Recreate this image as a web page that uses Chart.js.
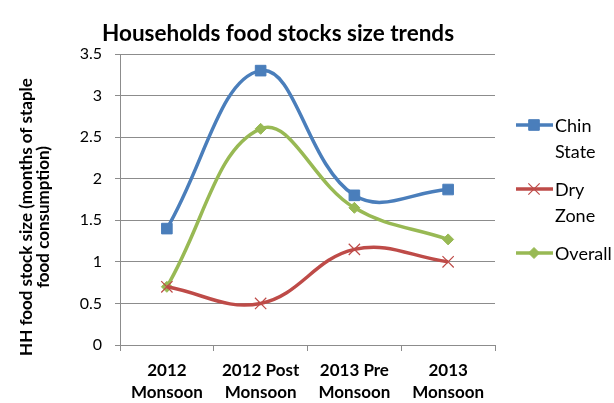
<!DOCTYPE html>
<html>
<head>
<meta charset="utf-8">
<script src="https://cdn.jsdelivr.net/npm/chart.js@4/dist/chart.umd.min.js"></script>
<style>
  html, body { margin: 0; padding: 0; background: #fff; }
  #wrap { width: 614px; height: 403px; }
</style>
</head>
<body>
<div id="wrap"><canvas id="grafico"></canvas></div>
<script>
const periodos = [['2012', 'Monsoon'], ['2012 Post', 'Monsoon'], ['2013 Pre', 'Monsoon'], ['2013', 'Monsoon']];
const chinState = [1.4, 3.3, 1.8, 1.87];
const dryZone = [0.7, 0.5, 1.15, 1.0];
const overall = [0.7, 2.6, 1.65, 1.27];
const tituloGrafico = 'Households food stocks size trends';
const tituloEixoY = ['HH food stock size (months of staple', 'food consumption)'];

const fonte = 'Lato, "Open Sans", sans-serif';
const cinza = '#8c8c8c';

// legenda e titulos desenhados a mao (texto em duas linhas)
const extras = {
  id: 'extras',
  afterDraw(chart) {
    const ctx = chart.ctx;
    ctx.save();
    ctx.fillStyle = '#000';
    ctx.font = 'bold 22.5px ' + fonte;
    ctx.textAlign = 'center';
    ctx.textBaseline = 'alphabetic';
    ctx.fillText(tituloGrafico, 278, 41);

    ctx.font = 'bold 17px ' + fonte;
    ctx.textBaseline = 'middle';
    ctx.translate(0, 217);
    ctx.rotate(-Math.PI / 2);
    ctx.fillText(tituloEixoY[0], 0, 27);
    ctx.fillText(tituloEixoY[1], 0, 44);
    ctx.restore();

    const itens = [
      { ds: chart.data.datasets[0], y: 125, linhas: ['Chin', 'State'] },
      { ds: chart.data.datasets[1], y: 189, linhas: ['Dry', 'Zone'] },
      { ds: chart.data.datasets[2], y: 253, linhas: ['Overall'] }
    ];
    ctx.save();
    itens.forEach(it => {
      ctx.strokeStyle = it.ds.borderColor;
      ctx.fillStyle = it.ds.borderColor;
      ctx.lineWidth = 3.5;
      ctx.beginPath();
      ctx.moveTo(516, it.y);
      ctx.lineTo(553, it.y);
      ctx.stroke();
      ctx.lineWidth = it.ds.pointBorderWidth;
      Chart.helpers.drawPoint(ctx, {
        pointStyle: it.ds.pointStyle,
        radius: it.ds.pointRadius,
        borderWidth: it.ds.pointBorderWidth,
        rotation: 0
      }, 534, it.y);
      ctx.fillStyle = '#000';
      ctx.font = '18px ' + fonte;
      ctx.textAlign = 'left';
      ctx.textBaseline = 'middle';
      it.linhas.forEach((t, i) => ctx.fillText(t, 555, it.y + 1 + i * 26));
    });
    ctx.restore();
  }
};

const serie = (label, dados, cor, estilo, raio, borda) => ({
  label: label,
  data: dados,
  borderColor: cor,
  backgroundColor: cor,
  pointBackgroundColor: cor,
  pointBorderColor: cor,
  borderWidth: 3.5,
  tension: 0.4,
  pointStyle: estilo,
  pointRadius: raio,
  pointHoverRadius: raio,
  pointBorderWidth: borda
});

const grafico = document.getElementById('grafico');
new Chart(grafico, {
  type: 'line',
  data: {
    labels: periodos,
    datasets: [
      serie('Chin State', chinState, '#4A7EBB', 'rect', 7.5, 1),
      serie('Dry Zone', dryZone, '#BE4B48', 'crossRot', 8, 1.2),
      serie('Overall', overall, '#98B954', 'rectRot', 5.5, 1)
    ]
  },
  options: {
    responsive: true,
    maintainAspectRatio: false,
    animation: false,
    layout: { padding: { top: 54, right: 119, left: 0, bottom: 0 } },
    plugins: {
      legend: { display: false },
      title: { display: false },
      tooltip: { enabled: false }
    },
    scales: {
      x: {
        offset: true,
        afterFit: s => { s.height = 58; },
        grid: { drawOnChartArea: false, color: cinza, tickLength: 6, offset: true },
        border: { color: cinza, width: 1 },
        ticks: { color: '#000', font: { family: fonte, size: 17, weight: 'bold', lineHeight: 1.3 }, padding: 8, maxRotation: 0 }
      },
      y: {
        min: 0,
        max: 3.5,
        afterFit: s => { s.width = 120; },
        grid: { color: cinza, tickLength: 5 },
        border: { color: cinza, width: 1 },
        ticks: {
          stepSize: 0.5,
          color: '#000',
          font: { family: fonte, size: 16 },
          padding: 13,
          callback: v => String(v)
        }
      }
    }
  },
  plugins: [extras]
});
</script>
</body>
</html>
